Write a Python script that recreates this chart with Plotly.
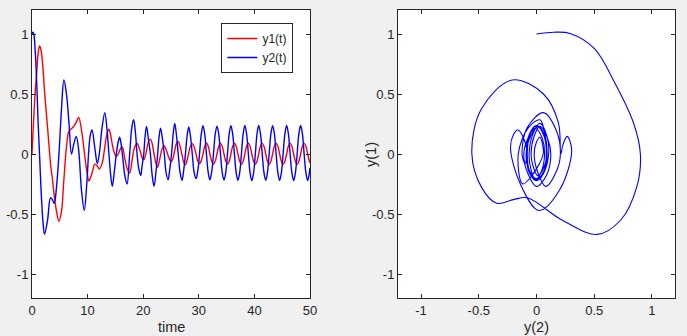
import plotly.graph_objects as go

# Sampled solution of the oscillator: time, y1(t) and y2(t)
t = [
    0.0, 0.15, 0.3, 0.55, 0.85, 1.1, 1.35, 1.6, 1.95, 2.25, 2.8,
    3.33, 3.65, 4.0, 4.4, 4.85, 5.3, 5.74, 6.2, 6.65, 7.1,
    7.5, 7.96, 8.4, 8.9, 9.4, 9.85, 10.24, 10.5, 10.8, 11.3,
    11.75, 12.1, 12.6, 13.1, 13.5, 13.84, 14.1, 14.44, 14.8, 15.17,
    15.5, 15.77, 16.0, 16.25, 16.7, 17.1, 17.57, 17.95, 18.29, 18.6,
    18.9, 19.2, 19.55, 19.8, 20.1, 20.35, 20.6, 20.95, 21.3, 21.6,
    21.95, 22.3, 22.6, 22.85, 23.12, 23.45, 23.8, 24.1, 24.47, 24.8,
    25.1, 25.4, 25.68, 26.0, 26.3, 26.65, 26.99, 27.3, 27.6, 27.9,
    28.2, 28.5, 28.83, 29.15, 29.5, 29.82, 30.13, 30.45,
    30.75, 31.07, 31.38, 31.7, 32.0, 32.32, 32.64, 32.96,
    33.27, 33.59, 33.9, 34.22, 34.53, 34.85, 35.16, 35.47,
    35.78, 36.1, 36.41, 36.73, 37.04, 37.36, 37.67, 37.98,
    38.29, 38.6, 38.92, 39.23, 39.54, 39.86, 40.17, 40.48,
    40.78, 41.1, 41.41, 41.73, 42.04, 42.35, 42.66, 42.97,
    43.28, 43.6, 43.91, 44.23, 44.54, 44.86, 45.17, 45.49,
    45.8, 46.12, 46.43, 46.75, 47.06, 47.38, 47.69, 48.0,
    48.32, 48.64, 48.95, 49.27, 49.58, 49.9, 50.0,
]

y1 = [
    0.00, 0.15, 0.29, 0.50, 0.68, 0.84, 0.90, 0.87, 0.73, 0.525, 0.22,
    -0.08, -0.20, -0.345, -0.475, -0.56, -0.48, -0.21, 0.06, 0.19, 0.21,
    0.23, 0.265, 0.305, 0.20, 0.02, -0.14, -0.225, -0.20, -0.16, -0.085,
    -0.10, -0.125, -0.08, 0.06, 0.17, 0.207, 0.17, 0.08, 0.01, -0.02,
    0.00, 0.03, 0.05, 0.058, -0.04, -0.12, -0.158, -0.07, 0.03, 0.07,
    0.09, 0.06, 0.01, -0.03, -0.047, -0.02, 0.03, 0.10, 0.124, 0.09,
    0.00, -0.08, -0.11, -0.07, -0.01, 0.05, 0.07, 0.04, -0.01, -0.05,
    -0.064, -0.03, 0.03, 0.09, 0.105, 0.06, -0.01, -0.07, -0.09, -0.05,
    0.01, 0.065, 0.085, 0.06, 0.00, -0.06, -0.08, -0.055,
    0.00, 0.065, 0.092, 0.065, 0.00, -0.06, -0.085, -0.06,
    0.00, 0.065, 0.09, 0.063, 0.00, -0.06, -0.086, -0.06,
    0.00, 0.065, 0.09, 0.064, 0.00, -0.061, -0.087, -0.06,
    0.00, 0.066, 0.091, 0.064, 0.00, -0.061, -0.086, -0.06,
    0.00, 0.066, 0.091, 0.064, 0.00, -0.061, -0.087, -0.061,
    0.00, 0.066, 0.09, 0.064, 0.00, -0.061, -0.086, -0.06,
    0.00, 0.066, 0.091, 0.064, 0.00, -0.062, -0.087, -0.061,
    0.00, 0.066, 0.091, 0.064, 0.00, -0.06, -0.072,
]

y2 = [
    1.000, 1.015, 1.005, 0.88, 0.59, 0.26, 0.00, -0.27, -0.55, -0.67, -0.55,
    -0.365, -0.38, -0.41, -0.28, 0.00, 0.37, 0.617, 0.50, 0.26, 0.00,
    0.08, 0.147, 0.03, -0.30, -0.47, -0.25, 0.05, 0.16, 0.20, 0.05,
    -0.08, 0.00, 0.22, 0.345, 0.20, 0.00, -0.15, -0.27, -0.15, 0.00,
    0.10, 0.14, 0.09, 0.00, -0.18, -0.25, 0.00, 0.22, 0.285, 0.18,
    0.00, -0.12, -0.18, -0.10, 0.00, 0.15, 0.23, 0.12, 0.00, -0.17,
    -0.27, -0.15, 0.00, 0.14, 0.215, 0.13, 0.00, -0.15, -0.215, -0.12,
    0.00, 0.17, 0.255, 0.15, 0.00, -0.16, -0.22, -0.13, 0.00, 0.15,
    0.225, 0.15, 0.00, -0.15, -0.205, -0.14, 0.00, 0.165,
    0.235, 0.165, 0.00, -0.155, -0.215, -0.15, 0.00, 0.165,
    0.232, 0.165, 0.00, -0.155, -0.218, -0.155, 0.00, 0.165,
    0.235, 0.165, 0.00, -0.157, -0.22, -0.155, 0.00, 0.166,
    0.237, 0.167, 0.00, -0.157, -0.222, -0.156, 0.00, 0.168,
    0.238, 0.168, 0.00, -0.156, -0.22, -0.156, 0.00, 0.167,
    0.236, 0.167, 0.00, -0.156, -0.221, -0.157, 0.00, 0.168,
    0.238, 0.168, 0.00, -0.157, -0.222, -0.157, 0.00, 0.167,
    0.237, 0.167, 0.00, -0.157, -0.222, -0.155, -0.115,
]

time_ticks = [0, 10, 20, 30, 40, 50]
value_ticks = [-1, -0.5, 0, 0.5, 1]
value_labels = ["-1", "-0.5", "0", "0.5", "1"]

INK = "#262626"
FONT = "Liberation Sans, Arial, sans-serif"

fig = go.Figure()

fig.add_trace(go.Scatter(
    x=t, y=y1, mode="lines", name="y1(t)",
    line=dict(color="#ff0000", width=1.4, shape="spline", smoothing=1.0),
    xaxis="x", yaxis="y",
))
fig.add_trace(go.Scatter(
    x=t, y=y2, mode="lines", name="y2(t)",
    line=dict(color="#0000ff", width=1.4, shape="spline", smoothing=1.0),
    xaxis="x", yaxis="y",
))
# phase portrait: y1 on the horizontal axis, y2 on the vertical axis
fig.add_trace(go.Scatter(
    x=y1, y=y2, mode="lines", showlegend=False,
    line=dict(color="#0000ff", width=1.1, shape="spline", smoothing=1.0),
    xaxis="x2", yaxis="y2",
))


def box_axis(**kw):
    base = dict(
        showline=True, linecolor=INK, linewidth=1, mirror="ticks",
        ticks="inside", ticklen=4, tickwidth=1, tickcolor=INK,
        showgrid=False, zeroline=False, automargin=False,
        tickfont=dict(family=FONT, size=13, color=INK),
        fixedrange=True,
    )
    base.update(kw)
    return base


# plot area spans x 32..675 px and y 10..298 px
fig.update_layout(
    width=687, height=336,
    margin=dict(l=32, r=12, t=10, b=38, autoexpand=False),
    paper_bgcolor="#f0f0f0", plot_bgcolor="#ffffff",
    font=dict(family=FONT, color=INK),
    xaxis=box_axis(domain=[0.0, 0.4323], range=[0, 50], tickvals=time_ticks,
                   anchor="y"),
    yaxis=box_axis(domain=[0, 1], range=[-1.2, 1.2], tickvals=value_ticks,
                   ticktext=value_labels, anchor="x"),
    xaxis2=box_axis(domain=[0.5692, 1.0], range=[-1.2, 1.2], tickvals=value_ticks,
                    ticktext=value_labels, anchor="y2"),
    yaxis2=box_axis(domain=[0, 1], range=[-1.2, 1.2], tickvals=value_ticks,
                    ticktext=value_labels, anchor="x2"),
    legend=dict(
        x=0.4065, y=0.955, xanchor="right", yanchor="top",
        bgcolor="#ffffff", bordercolor=INK, borderwidth=1,
        font=dict(family=FONT, size=12, color=INK),
        tracegroupgap=0, itemwidth=30,
    ),
    annotations=[
        dict(text="time", x=0.2162, y=-0.10, xref="paper", yref="paper",
             showarrow=False, xanchor="center", yanchor="middle",
             font=dict(family=FONT, size=14.5, color=INK)),
        dict(text="y(2)", x=0.7846, y=-0.10, xref="paper", yref="paper",
             showarrow=False, xanchor="center", yanchor="middle",
             font=dict(family=FONT, size=14.5, color=INK)),
        dict(text="y(1)", x=0.5272, y=0.5, xref="paper", yref="paper",
             showarrow=False, xanchor="center", yanchor="middle", textangle=-90,
             font=dict(family=FONT, size=14.5, color=INK)),
    ],
)

fig.write_html("out.html")
